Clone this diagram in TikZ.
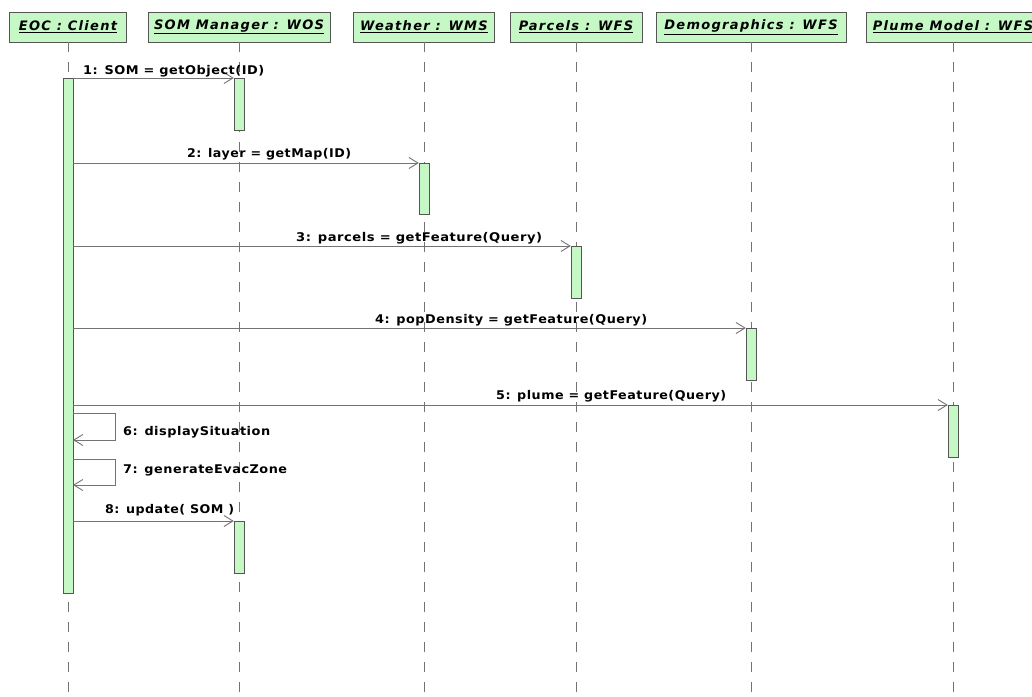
\documentclass[tikz,border=0pt]{standalone}
\usepackage{graphicx}
\usepackage{fontspec}
\setmainfont{DejaVu Sans}
\newfontfamily\headfont{DejaVu Sans}[LetterSpace=10]
\newfontfamily\msgfont{DejaVu Sans}[LetterSpace=4]
\usetikzlibrary{positioning,arrows.meta}
\definecolor{actgreen}{RGB}{198,248,198}
\definecolor{boxgray}{RGB}{85,85,85}
\definecolor{linegray}{RGB}{115,115,115}
\tikzset{
  head node/.style={draw=boxgray, fill=actgreen, minimum height=30pt, inner sep=0pt,
    font=\headfont\bfseries\itshape\fontsize{13}{15}\selectfont},
  act bar/.style={draw=boxgray, fill=actgreen, minimum width=10pt, inner sep=0pt, anchor=north},
  life line/.style={draw=linegray, line width=0.9pt, dash pattern=on 10pt off 10pt},
  call/.style={draw=linegray, line width=0.9pt, -{Straight Barb[length=9pt,width=11pt,line width=0.9pt]}},
  msg label/.style={font=\msgfont\bfseries\fontsize{12}{14}\selectfont, inner sep=0pt, anchor=base west},
}
% label at (x,y) stretched to a given width
\newcommand{\msg}[4]{\node[msg label] at (#1,#2) {\resizebox{#3pt}{\height}{#4}};}

\begin{document}
\begin{tikzpicture}[x=1pt, y=-1pt]
    \useasboundingbox (0,0) rectangle (1032,696);
    \clip (0,0) rectangle (1032,696);
    \coordinate (bottom) at (0,696);

    % objects
    \node[head node, minimum width=117pt] (eoc) at (68,27) {\underline{EOC : Client}};
    \node[head node, minimum width=182pt] (som) at (239,27) {\underline{SOM Manager : WOS}};
    \node[head node, minimum width=141pt] (wms) at (424,27) {\underline{Weather : WMS}};
    \node[head node, minimum width=132pt] (par) at (576,27) {\underline{Parcels : WFS}};
    \node[head node, minimum width=190pt] (dem) at (751,27) {\underline{Demographics : WFS}};
    \node[head node, minimum width=174pt] (plu) at (953,27) {\underline{Plume Model : WFS}};

    % lifelines
    \foreach \o in {eoc,som,wms,par,dem,plu}
        \draw[life line] (\o.south) -- (\o.south |- bottom);

    % activations
    \node[act bar, minimum height=515pt] (a0) at (68,78) {};
    \node[act bar, minimum height=52pt] (a1) at (239,78) {};
    \node[act bar, minimum height=51pt] (a2) at (424,163) {};
    \node[act bar, minimum height=52pt] (a3) at (576,246) {};
    \node[act bar, minimum height=52pt] (a4) at (751,328) {};
    \node[act bar, minimum height=52pt] (a5) at (953,405) {};
    \node[act bar, minimum height=52pt] (a8) at (239,521) {};

    % calls
    \draw[call] (a0.east |- a1.north west) -- (a1.north west);
    \draw[call] (a0.east |- a2.north west) -- (a2.north west);
    \draw[call] (a0.east |- a3.north west) -- (a3.north west);
    \draw[call] (a0.east |- a4.north west) -- (a4.north west);
    \draw[call] (a0.east |- a5.north west) -- (a5.north west);
    \draw[call] (a0.east |- a8.north west) -- (a8.north west);

    % self calls
    \coordinate (s6) at (73,413);
    \coordinate (e6) at (73,440);
    \coordinate (s7) at (73,459);
    \coordinate (e7) at (73,485);
    \draw[call] (s6) -- ++(42,0) |- (e6);
    \draw[call] (s7) -- ++(42,0) |- (e7);

    % labels
    \msg{83}{74}{181}{1: SOM = getObject(ID)}
    \msg{187}{157}{164}{2: layer = getMap(ID)}
    \msg{296}{241}{246}{3: parcels = getFeature(Query)}
    \msg{375}{323}{272}{4: popDensity = getFeature(Query)}
    \msg{496}{399}{230}{5: plume = getFeature(Query)}
    \msg{123}{435}{147}{6: displaySituation}
    \msg{123}{473}{164}{7: generateEvacZone}
    \msg{105}{513}{129}{8: update( SOM )}
\end{tikzpicture}
\end{document}
